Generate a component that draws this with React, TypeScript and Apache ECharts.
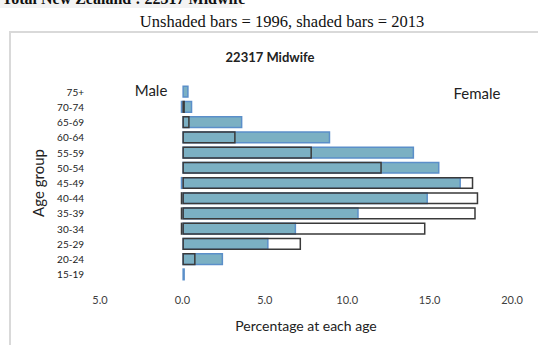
import React, { useEffect, useRef } from "react";
import * as echarts from "echarts";

const ageGroups = ["15-19", "20-24", "25-29", "30-34", "35-39", "40-44", "45-49", "50-54", "55-59", "60-64", "65-69", "70-74", "75+"];
const female2013 = [0.15, 2.47, 5.23, 6.9, 10.7, 14.9, 16.9, 15.6, 14.06, 8.97, 3.64, 0.6, 0.38];
const female1996: (number | string)[] = ["-", 0.8, 7.2, 14.75, 17.8, 17.95, 17.65, 12.1, 7.86, 3.23, 0.44, 0.15, "-"];
const male2013: (number | string)[] = ["-", "-", "-", "-", "-", "-", -0.1, "-", "-", "-", "-", -0.1, "-"];
const male1996: (number | string)[] = ["-", "-", "-", -0.1, -0.1, -0.1, "-", "-", "-", "-", "-", "-", "-"];
const xTicks = { min: -5, max: 20, interval: 5 };

const FONT = "Lato, 'Liberation Sans', sans-serif";

export default function App() {
  const ref = useRef<HTMLDivElement>(null);
  useEffect(() => {
    document.body.style.margin = "0";
    const chart = echarts.init(ref.current!, null, { renderer: "svg" });
    const shaded = {
      color: "#7BB0C3",
      borderColor: "#5B8FC9",
      borderWidth: 1.5,
    };
    const unshaded = {
      color: "rgba(255,255,255,0)",
      borderColor: "#3A3A3A",
      borderWidth: 1.5,
    };
    chart.setOption({
      animation: false,
      backgroundColor: "#ffffff",
      grid: { left: 100, right: 26, top: 84, height: 198 },
      xAxis: {
        type: "value",
        min: xTicks.min,
        max: xTicks.max,
        interval: xTicks.interval,
        splitLine: { show: false },
        axisLine: { show: false },
        axisTick: { show: false },
        axisLabel: {
          margin: 12,
          color: "#404040",
          fontFamily: FONT,
          fontSize: 11,
          formatter: (v: number) => Math.abs(v).toFixed(1),
        },
        name: "Percentage at each age",
        nameLocation: "middle",
        nameGap: 36,
        nameTextStyle: { color: "#222", fontFamily: FONT, fontSize: 14 },
      },
      yAxis: {
        type: "category",
        data: ageGroups,
        axisLine: { show: false },
        axisTick: { show: false },
        axisLabel: { color: "#222", fontFamily: FONT, fontSize: 10, margin: 16 },
        name: "Age group",
        nameLocation: "middle",
        nameGap: 55,
        nameRotate: 90,
        nameTextStyle: { color: "#222", fontFamily: FONT, fontSize: 15 },
      },
      series: [
        { type: "bar", name: "Female 2013", stack: "s2013", data: female2013, itemStyle: shaded, barCategoryGap: "20%", barGap: "-100%" },
        { type: "bar", name: "Male 2013", stack: "s2013", data: male2013, itemStyle: shaded, barGap: "-100%" },
        { type: "bar", name: "Female 1996", stack: "s1996", data: female1996, itemStyle: unshaded, barGap: "-100%" },
        { type: "bar", name: "Male 1996", stack: "s1996", data: male1996, itemStyle: unshaded, barGap: "-100%" },
      ],
      graphic: [
        { type: "rect", shape: { x: 0, y: 0, width: 242, height: 8 }, style: { fill: "#f3f3f3" }, silent: true },
        {
          type: "text",
          x: 2,
          y: 6,
          style: {
            text: "Total New Zealand : 22317 Midwife",
            font: "bold 16px 'Liberation Serif', serif",
            fill: "#111",
            textVerticalAlign: "bottom",
          },
        },
        {
          type: "text",
          x: 282,
          y: 21,
          style: {
            text: "Unshaded bars = 1996, shaded bars = 2013",
            font: "16.5px 'Liberation Serif', serif",
            fill: "#111",
            textAlign: "center",
            textVerticalAlign: "middle",
          },
        },
        { type: "rect", shape: { x: 10, y: 32, width: 540, height: 330 }, style: { fill: "none", stroke: "#d9d9d9", lineWidth: 2 }, silent: true },
        {
          type: "text",
          x: 270,
          y: 57,
          style: { text: "22317 Midwife", font: `bold 13px ${FONT}`, fill: "#222", textAlign: "center", textVerticalAlign: "middle" },
        },
        {
          type: "text",
          x: 151,
          y: 90,
          style: { text: "Male", font: `15px ${FONT}`, fill: "#222", textAlign: "center", textVerticalAlign: "middle" },
        },
        {
          type: "text",
          x: 477,
          y: 93,
          style: { text: "Female", font: `15px ${FONT}`, fill: "#222", textAlign: "center", textVerticalAlign: "middle" },
        },
      ],
    });
    return () => chart.dispose();
  }, []);
  return <div ref={ref} style={{ position: "fixed", left: 0, top: 0, width: 538, height: 345 }} />;
}
